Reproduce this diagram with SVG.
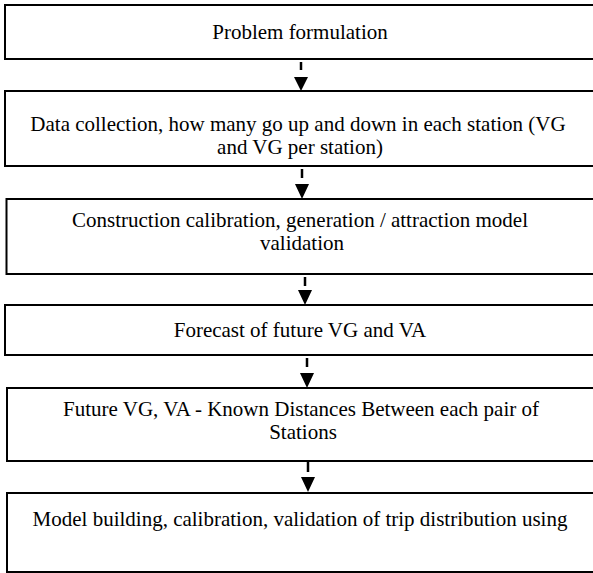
<svg xmlns="http://www.w3.org/2000/svg" width="593" height="573" viewBox="0 0 593 573">
<style>
.box{fill:#fff;stroke:#000;stroke-width:2}
.t{font-family:"Liberation Serif","Times New Roman",serif;font-size:21px;fill:#000;text-anchor:middle}
.ln{stroke:#000;stroke-width:2.5}
.ah{fill:#000}
</style>
<rect width="593" height="573" fill="#fff"/>
<g id="n1"><rect class="box" x="5" y="5" width="600" height="54"/><text class="t" x="300" y="39">Problem formulation</text></g>
<g id="n2"><rect class="box" x="5" y="91" width="600" height="75"/><text class="t" x="298" y="131">Data collection, how many go up and down in each station (VG</text><text class="t" x="300" y="154">and VG per station)</text></g>
<g id="n3"><rect class="box" x="6.5" y="199" width="600" height="75"/><text class="t" x="300" y="227">Construction calibration, generation / attraction model</text><text class="t" x="302" y="250">validation</text></g>
<g id="n4"><rect class="box" x="5" y="305" width="600" height="50"/><text class="t" x="300" y="337">Forecast of future VG and VA</text></g>
<g id="n5"><rect class="box" x="7" y="388" width="600" height="73"/><text class="t" x="301" y="416">Future VG, VA - Known Distances Between each pair of</text><text class="t" x="303" y="439">Stations</text></g>
<g id="n6"><rect class="box" x="7" y="493" width="600" height="79"/><text class="t" x="300" y="526">Model building, calibration, validation of trip distribution using</text></g>
<g id="connectors">
<line class="ln" x1="301" y1="62" x2="301" y2="70"/><polygon class="ah" points="294,77 308,77 301,91"/>
<line class="ln" x1="302" y1="169" x2="302" y2="178"/><polygon class="ah" points="295,184 309,184 302,199"/>
<line class="ln" x1="305" y1="277" x2="305" y2="286"/><polygon class="ah" points="298,290 312,290 305,305"/>
<line class="ln" x1="307" y1="358" x2="307" y2="367"/><polygon class="ah" points="300,373 314,373 307,388"/>
<line class="ln" x1="308" y1="462" x2="308" y2="472"/><polygon class="ah" points="301,477 315,477 308,492"/>
</g>
</svg>
